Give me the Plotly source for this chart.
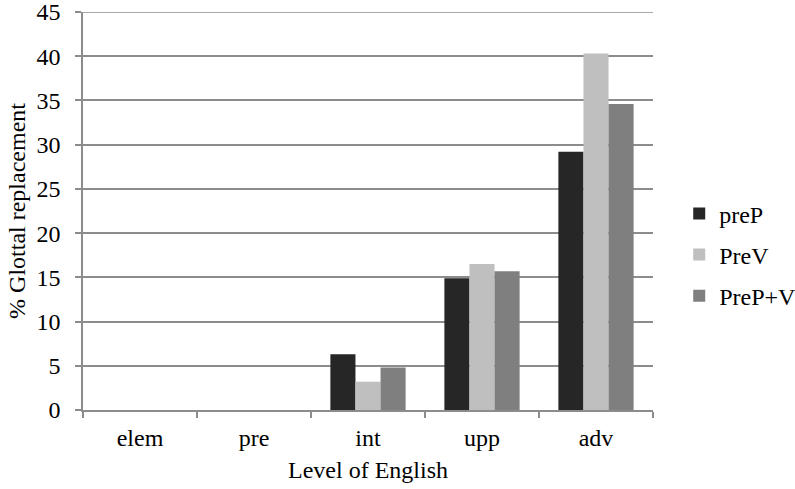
import plotly.graph_objects as go

levels = ["elem", "pre", "int", "upp", "adv"]
preP = [0, 0, 6.3, 14.9, 29.2]
preV = [0, 0, 3.2, 16.5, 40.3]
prePV = [0, 0, 4.8, 15.7, 34.6]
y_ticks = [0, 5, 10, 15, 20, 25, 30, 35, 40, 45]

series = [("preP", preP, "#262626"), ("PreV", preV, "#bfbfbf"), ("PreP+V", prePV, "#7f7f7f")]

font_family = "Liberation Serif, Times New Roman, serif"
fs = 24
grid = "#8c8c8c"

fig = go.Figure()
for name, vals, color in series:
    fig.add_trace(go.Bar(name=name, x=levels, y=vals, legendgroup=name,
                         marker=dict(color=color, line=dict(width=0))))

fig.update_layout(
    width=795, height=489,
    margin=dict(l=83, r=142, t=12, b=79, autoexpand=False),
    paper_bgcolor="white", plot_bgcolor="white",
    barmode="group", bargap=0.34, bargroupgap=0,
    font=dict(family=font_family, size=fs, color="black"),
    legend=dict(x=1.046, y=0.39, yanchor="middle", xanchor="left",
                font=dict(size=fs), tracegroupgap=7, itemwidth=30),
    showlegend=True,
)
# top gridline at 45 sits on the plot edge, so draw it explicitly
fig.add_shape(type="line", xref="paper", yref="y", x0=0, x1=1, y0=45, y1=45,
              line=dict(color=grid, width=1.5), layer="below")
fig.update_xaxes(
    title=dict(text="Level of English", font=dict(size=fs), standoff=12),
    showline=True, linecolor=grid, linewidth=1.5,
    ticks="outside", tickson="boundaries", ticklen=6, tickcolor=grid, tickwidth=1.5,
    ticklabelstandoff=5,
    tickfont=dict(size=fs), showgrid=False,
)
fig.update_yaxes(
    title=dict(text="% Glottal replacement", font=dict(size=fs), standoff=4),
    range=[0, 45], tickvals=y_ticks, ticklabeloverflow="allow",
    showline=True, linecolor=grid, linewidth=1.5,
    ticks="outside", ticklen=6, tickcolor=grid, tickwidth=1.5,
    ticklabelstandoff=10,
    showgrid=True, gridcolor=grid, gridwidth=1.5,
    zeroline=False, tickfont=dict(size=fs),
)

fig.write_html("out.html")
